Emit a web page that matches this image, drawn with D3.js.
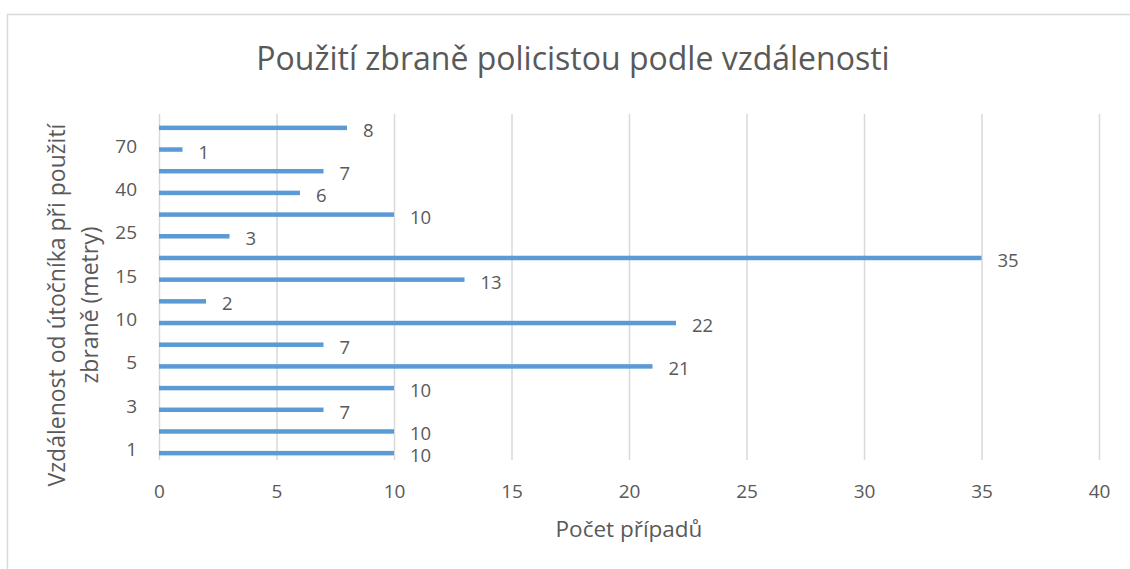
<!DOCTYPE html>
<html>
<head>
<meta charset="utf-8">
<script src="https://cdn.jsdelivr.net/npm/d3@7/dist/d3.min.js"></script>
<style>
  html, body { margin: 0; padding: 0; background: #fff; }
  svg { display: block; }
  text { font-family: "Open Sans", "Noto Sans", sans-serif; fill: #595959; }
</style>
</head>
<body>
<svg id="chart" width="1130" height="569"></svg>
<script>
// Data (bottom to top order, as in the reference)
const categories = ["1", "2", "3", "4", "5", "7", "10", "12", "15", "20", "25", "30", "40", "50", "70", "100"];
const values = [10, 10, 7, 10, 21, 7, 22, 2, 13, 35, 3, 10, 6, 7, 1, 8];
const shownCategoryLabels = ["1", "3", "5", "10", "15", "25", "40", "70"];
const xTicks = [0, 5, 10, 15, 20, 25, 30, 35, 40];
const title = "Použití zbraně policistou podle vzdálenosti";
const xTitle = "Počet případů";
const yTitleLines = ["Vzdálenost od útočníka při použití", "zbraně (metry)"];

const svg = d3.select("#chart");

// Outer chart border
svg.append("rect")
  .attr("x", 7.5).attr("y", 14.5)
  .attr("width", 1140).attr("height", 600)
  .attr("fill", "#fff").attr("stroke", "#d9d9d9").attr("stroke-width", 1.5);

const plot = { left: 159, right: 1099, top: 117, bottom: 464 };

const x = d3.scaleLinear().domain([0, 40]).range([plot.left, plot.right]);
const y = d3.scaleBand().domain(categories).range([plot.bottom, plot.top]).paddingInner(0).paddingOuter(0);

// Gridlines + x tick labels
const xAxis = d3.axisBottom(x).tickValues(xTicks).tickSize(-(460 - 114)).tickFormat(d3.format("d")).tickPadding(0);
const gx = svg.append("g").attr("transform", `translate(0,460)`).call(xAxis);
gx.select(".domain").remove();
gx.selectAll(".tick line").attr("stroke", "#d9d9d9").attr("stroke-width", 1.5);
gx.selectAll(".tick text")
  .attr("y", 38).attr("dy", 0)
  .style("font-size", "19px").attr("fill", "#595959");

// Bars
const data = categories.map((c, i) => ({ c, v: values[i] }));
const barH = 4.5;
svg.append("g").selectAll("rect").data(data).join("rect")
  .attr("x", x(0))
  .attr("y", d => y(d.c) + y.bandwidth() / 2 - barH / 2)
  .attr("width", d => x(d.v) - x(0))
  .attr("height", barH)
  .attr("fill", "#5b9bd5");

// Value labels
svg.append("g").selectAll("text").data(data).join("text")
  .attr("x", d => x(d.v) + 16)
  .attr("y", d => y(d.c) + y.bandwidth() / 2 + 9)
  .style("font-size", "18.5px")
  .text(d => d.v);

// Y axis labels (only every other category shown)
const yAxis = d3.axisLeft(y).tickSize(0).tickPadding(0)
  .tickFormat(d => shownCategoryLabels.includes(d) ? d : "");
const gy = svg.append("g").attr("transform", `translate(137,0)`).call(yAxis);
gy.select(".domain").remove();
gy.selectAll(".tick text").attr("dy", 0).attr("y", 3)
  .style("font-size", "19px").attr("fill", "#595959");

// Title
svg.append("text")
  .attr("x", 573).attr("y", 70)
  .attr("text-anchor", "middle")
  .style("font-size", "32px")
  .text(title);

// X axis title
svg.append("text")
  .attr("x", (plot.left + plot.right) / 2).attr("y", 537)
  .attr("text-anchor", "middle")
  .style("font-size", "22.5px")
  .text(xTitle);

// Y axis title
const yt = svg.append("g").attr("transform", "translate(0,305) rotate(-90)");
yTitleLines.forEach((t, i) => {
  yt.append("text")
    .attr("x", 0).attr("y", 65 + i * 33)
    .attr("text-anchor", "middle")
    .style("font-size", "23px")
    .text(t);
});
</script>
</body>
</html>
